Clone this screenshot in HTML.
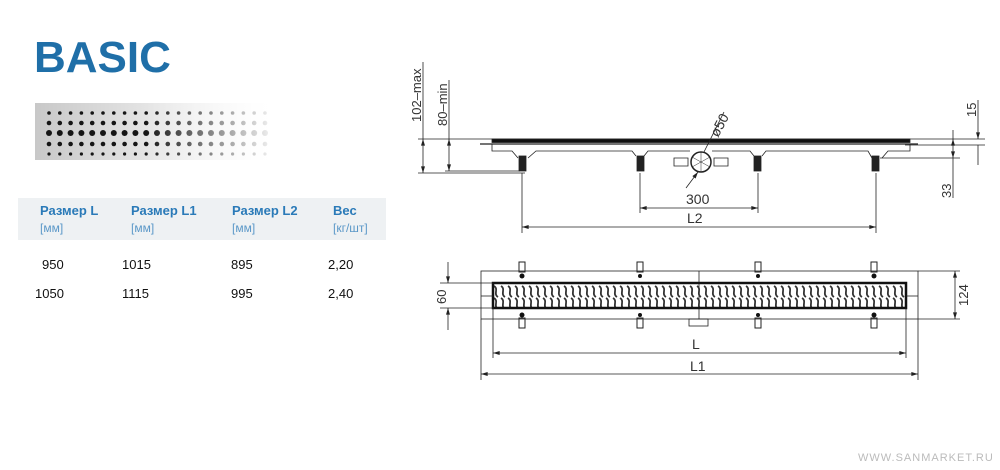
<!DOCTYPE html>
<html><head><meta charset="utf-8"><style>
body{margin:0;width:1000px;height:470px;background:#fff;position:relative;overflow:hidden;font-family:"Liberation Sans",sans-serif}
.a{position:absolute;white-space:nowrap}
.h{color:#2a7ab8;font-weight:bold;font-size:13px}
.u{color:#5b98c8;font-size:12px}
.n{font-size:13px;color:#111}
</style></head><body>
<div class="a" style="left:34px;top:33px;font-size:44px;font-weight:bold;color:#1f6fa8;letter-spacing:0px">BASIC</div>
<svg class="a" style="left:0;top:0" width="400" height="200">
<defs><linearGradient id="pl" x1="0" x2="1"><stop offset="0" stop-color="#c8c8c8"/><stop offset="0.5" stop-color="#e6e6e6"/><stop offset="0.85" stop-color="#f4f4f4"/><stop offset="1" stop-color="#fff"/></linearGradient>
<linearGradient id="fd" x1="0" x2="1"><stop offset="0" stop-color="#fff" stop-opacity="0"/><stop offset="0.45" stop-color="#fff" stop-opacity="0"/><stop offset="1" stop-color="#fff" stop-opacity="1"/></linearGradient></defs>
<rect x="35" y="103" width="240" height="57" fill="url(#pl)"/>
<g fill="#151515" id="dots"></g>
<rect x="35" y="100" width="245" height="62" fill="url(#fd)"/>
</svg>
<script>
var g=document.getElementById('dots'),s='',ys=[113,123,133,144,154],rs=[1.8,2.3,3,2.3,1.6];
for(var c=0;c<21;c++){var x=49+c*10.8;for(var i=0;i<5;i++){s+='<circle cx="'+x+'" cy="'+ys[i]+'" r="'+rs[i]+'"/>';}}
g.innerHTML=s;
</script>
<div class="a" style="left:18px;top:198px;width:368px;height:42px;background:#eef1f3"></div>
<div class="a h" style="left:40px;top:203px">Размер L</div><div class="a u" style="left:40px;top:221px">[мм]</div>
<div class="a h" style="left:131px;top:203px">Размер L1</div><div class="a u" style="left:131px;top:221px">[мм]</div>
<div class="a h" style="left:232px;top:203px">Размер L2</div><div class="a u" style="left:232px;top:221px">[мм]</div>
<div class="a h" style="left:333px;top:203px">Вес</div><div class="a u" style="left:333px;top:221px">[кг/шт]</div>
<div class="a n" style="left:42px;top:257px">950</div><div class="a n" style="left:122px;top:257px">1015</div><div class="a n" style="left:231px;top:257px">895</div><div class="a n" style="left:328px;top:257px">2,20</div>
<div class="a n" style="left:35px;top:286px">1050</div><div class="a n" style="left:122px;top:286px">1115</div><div class="a n" style="left:231px;top:286px">995</div><div class="a n" style="left:328px;top:286px">2,40</div>

<svg class="a" style="left:0;top:0" width="1000" height="470" font-family="Liberation Sans,sans-serif" fill="none" stroke="#222" stroke-width="0.8">
<defs>
<marker id="ar" viewBox="0 0 10 6" refX="10" refY="3" markerWidth="9" markerHeight="5" orient="auto-start-reverse"><path d="M0,0L10,3L0,6z" fill="#222" stroke="none"/></marker>
<pattern id="wv" x="493" y="285" width="7" height="26" patternUnits="userSpaceOnUse"><path d="M1,1 C6,4 0,9 5,12 M1,13 C6,16 0,21 5,24" stroke="#333" stroke-width="1.8" fill="none"/></pattern>
</defs>
<line x1="418" y1="139" x2="985" y2="139"/>
<line x1="905" y1="145" x2="985" y2="145"/>
<line x1="880" y1="158" x2="960" y2="158"/>
<line x1="418" y1="173" x2="525" y2="173"/>
<line x1="445" y1="171" x2="520" y2="171"/>
<rect x="492" y="139" width="418" height="3.5" fill="#111"/>
<line x1="480" y1="144" x2="918" y2="144" stroke-width="1.2"/>
<path d="M492,144V151H512L518,158M528,158L536,151H632L636,156M644,156L648,151H690M712,151H750L754,156M762,156L766,151H868L872,158M882,158L888,151H910V144"/>
<g fill="#222">
<rect x="519" y="156" width="7" height="15"/><rect x="637" y="156" width="7" height="15"/><rect x="754" y="156" width="7" height="15"/><rect x="872" y="156" width="7" height="15"/>
</g>
<path d="M674,158h14v8h-14zM714,158h14v8h-14z"/>
<circle cx="701" cy="162" r="10" stroke-width="1.5"/>
<path d="M701,152v20M692,157l18,10M692,167l18,-10" stroke-width="0.5"/>
<line x1="686" y1="188" x2="698" y2="172" marker-end="url(#ar)"/>
<line x1="704" y1="152" x2="724" y2="112"/>
<text x="0" y="0" transform="translate(718,138) rotate(-62)" font-size="14" fill="#333" stroke="none">ø50</text>
<line x1="423" y1="139" x2="423" y2="173" marker-start="url(#ar)" marker-end="url(#ar)"/>
<line x1="423" y1="62" x2="423" y2="139"/>
<line x1="449" y1="139" x2="449" y2="171" marker-start="url(#ar)" marker-end="url(#ar)"/>
<line x1="449" y1="80" x2="449" y2="139"/>
<text transform="translate(421,122) rotate(-90)" font-size="13" fill="#333" stroke="none">102–max</text>
<text transform="translate(447,126) rotate(-90)" font-size="13" fill="#333" stroke="none">80–min</text>
<line x1="978" y1="100" x2="978" y2="139" marker-end="url(#ar)"/>
<line x1="978" y1="145" x2="978" y2="165"/>
<text transform="translate(976,117) rotate(-90)" font-size="13" fill="#333" stroke="none">15</text>
<line x1="953" y1="130" x2="953" y2="139" />
<line x1="953" y1="139" x2="953" y2="158" marker-start="url(#ar)" marker-end="url(#ar)"/>
<line x1="953" y1="158" x2="953" y2="198"/>
<text transform="translate(951,198) rotate(-90)" font-size="13" fill="#333" stroke="none">33</text>
<line x1="522" y1="173" x2="522" y2="233"/><line x1="876" y1="173" x2="876" y2="233"/>
<line x1="640" y1="173" x2="640" y2="213"/><line x1="758" y1="173" x2="758" y2="213"/>
<line x1="640" y1="208" x2="758" y2="208" marker-start="url(#ar)" marker-end="url(#ar)"/>
<line x1="522" y1="227" x2="876" y2="227" marker-start="url(#ar)" marker-end="url(#ar)"/>
<text x="686" y="204" font-size="14" fill="#333" stroke="none">300</text>
<text x="687" y="223" font-size="14" fill="#333" stroke="none">L2</text>
<rect x="481" y="271" width="437" height="48"/>
<line x1="699" y1="271" x2="699" y2="319"/>
<rect x="493" y="283" width="413" height="25" fill="url(#wv)" stroke="#111" stroke-width="2.5"/>
<line x1="481" y1="296" x2="493" y2="296"/><line x1="906" y1="296" x2="918" y2="296"/>
<g stroke-width="1">
<rect x="519" y="262" width="6" height="10"/><rect x="637" y="262" width="6" height="10"/><rect x="755" y="262" width="6" height="10"/><rect x="871" y="262" width="6" height="10"/>
<rect x="519" y="318" width="6" height="10"/><rect x="637" y="318" width="6" height="10"/><rect x="755" y="318" width="6" height="10"/><rect x="871" y="318" width="6" height="10"/>
</g>
<g fill="#111" stroke="none"><circle cx="522" cy="276" r="2.5"/><circle cx="640" cy="276" r="2"/><circle cx="758" cy="276" r="2"/><circle cx="874" cy="276" r="2.5"/>
<circle cx="522" cy="315" r="2.5"/><circle cx="640" cy="315" r="2"/><circle cx="758" cy="315" r="2"/><circle cx="874" cy="315" r="2.5"/></g>
<rect x="689" y="319" width="19" height="7"/>
<line x1="440" y1="283" x2="493" y2="283"/><line x1="440" y1="308" x2="493" y2="308"/>
<line x1="448" y1="262" x2="448" y2="283" marker-end="url(#ar)"/>
<line x1="448" y1="308" x2="448" y2="330" marker-start="url(#ar)"/>
<text transform="translate(446,304) rotate(-90)" font-size="13" fill="#333" stroke="none">60</text>
<line x1="918" y1="271" x2="960" y2="271"/><line x1="918" y1="319" x2="960" y2="319"/>
<line x1="955" y1="271" x2="955" y2="319" marker-start="url(#ar)" marker-end="url(#ar)"/>
<text transform="translate(968,306) rotate(-90)" font-size="13" fill="#333" stroke="none">124</text>
<line x1="493" y1="308" x2="493" y2="358"/><line x1="906" y1="308" x2="906" y2="358"/>
<line x1="481" y1="319" x2="481" y2="380"/><line x1="918" y1="319" x2="918" y2="380"/>
<line x1="493" y1="353" x2="906" y2="353" marker-start="url(#ar)" marker-end="url(#ar)"/>
<line x1="481" y1="374" x2="918" y2="374" marker-start="url(#ar)" marker-end="url(#ar)"/>
<text x="692" y="349" font-size="14" fill="#333" stroke="none">L</text>
<text x="690" y="371" font-size="14" fill="#333" stroke="none">L1</text>
<text x="858" y="461" font-size="11" fill="#bbb" stroke="none" letter-spacing="1">WWW.SANMARKET.RU</text>
</svg>
</body></html>
